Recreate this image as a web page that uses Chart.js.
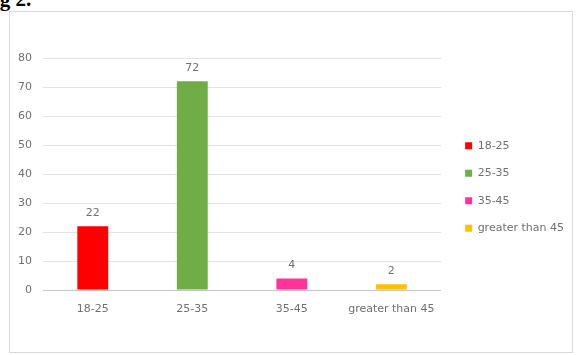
<!DOCTYPE html>
<html>
<head>
<meta charset="utf-8">
<script src="https://cdn.jsdelivr.net/npm/chart.js@4.4.1/dist/chart.umd.min.js"></script>
<style>
  html, body { margin: 0; padding: 0; background: #fff; overflow: hidden; width: 578px; height: 355px; }
  #cap { position: absolute; left: -19px; top: -13px; font: bold 21px "Liberation Serif", serif; color: #000; white-space: nowrap; }
  #frame { position: absolute; left: 9px; top: 11px; width: 562px; height: 340px; border: 1px solid #d9d9d9; }
  #wrap { position: absolute; left: 0; top: 0; width: 600px; height: 355px; }
</style>
</head>
<body>
<div id="cap">Fig 2.</div>
<div id="frame"></div>
<div id="wrap"><canvas id="c"></canvas></div>
<script>
// age groups and counts
var categories = ['18-25', '25-35', '35-45', 'greater than 45'];
var counts = [22, 72, 4, 2];
var barColors = ['#ff0000', '#70ad47', '#ff3399', '#ffc000'];
var yTicks = [0, 10, 20, 30, 40, 50, 60, 70, 80];

var FONT = '"DejaVu Sans", sans-serif';
var TXT = '#707070';

var valueLabels = {
    id: 'valueLabels',
    afterDatasetsDraw: function(chart) {
	var ctx = chart.ctx;
	var meta = chart.getDatasetMeta(0);
	ctx.save();
	ctx.font = '11px ' + FONT;
	ctx.fillStyle = TXT;
	ctx.textAlign = 'center';
	ctx.textBaseline = 'middle';
	meta.data.forEach(function(bar, i) {
	    ctx.fillText(String(counts[i]), bar.x, bar.y - 13);
	});
	ctx.restore();
    }
};

new Chart(document.getElementById('c').getContext('2d'), {
    type: 'bar',
    data: {
	labels: categories,
	datasets: [{
	    data: counts,
	    backgroundColor: barColors,
	    barPercentage: 0.62,
	    categoryPercentage: 0.5
	}]
    },
    options: {
	responsive: true,
	maintainAspectRatio: false,
	animation: false,
	layout: { padding: { left: 10, top: 58, bottom: 39, right: 26 } },
	plugins: {
	    tooltip: { enabled: false },
	    legend: {
		position: 'right',
		maxWidth: 300,
		labels: {
		    boxWidth: 7,
		    boxHeight: 7,
		    padding: 16.5,
		    color: TXT,
		    font: { family: FONT, size: 11 },
		    generateLabels: function() {
			return categories.map(function(c, i) {
			    return { text: c, fillStyle: barColors[i], strokeStyle: barColors[i], lineWidth: 0, index: i, fontColor: TXT };
			});
		    }
		}
	    }
	},
	scales: {
	    x: {
		grid: { display: false },
		border: { display: false },
		afterFit: function(s) { s.height = 26; },
		ticks: { color: TXT, font: { family: FONT, size: 11 }, padding: 5, maxRotation: 0, autoSkip: false }
	    },
	    y: {
		min: 0,
		max: 80,
		afterBuildTicks: function(s) { s.ticks = yTicks.map(function(v) { return { value: v }; }); },
		afterFit: function(s) { s.width = 33; },
		grid: {
		    drawTicks: false,
		    color: function(c) { return c.tick && c.tick.value === 0 ? '#c4c4c4' : '#e3e3e3'; }
		},
		border: { display: false },
		ticks: { color: TXT, font: { family: FONT, size: 11 }, padding: 11 }
	    },
	    gap: {
		type: 'linear',
		position: 'right',
		display: true,
		grid: { display: false },
		border: { display: false },
		ticks: { display: false },
		afterFit: function(s) { s.width = 7.5; }
	    }
	}
    },
    plugins: [valueLabels]
});
</script>
</body>
</html>
